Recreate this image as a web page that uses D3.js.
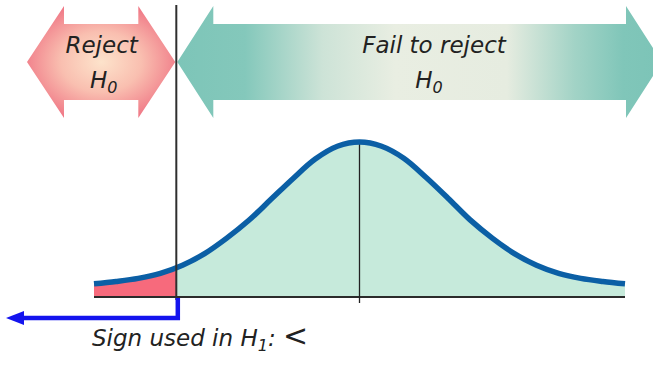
<!DOCTYPE html>
<html>
<head>
<meta charset="utf-8">
<script src="https://cdn.jsdelivr.net/npm/d3@7"></script>
<style>
  html, body { margin: 0; padding: 0; background: #fff; }
  svg { display: block; }
  .lbl { font-family: "DejaVu Sans", sans-serif; font-style: italic; fill: #222; }
</style>
</head>
<body>
<div id="chart"></div>
<script>
// curve: z position and curve height
const zValues = [-3, -2.75, -2.5, -2.25, -2, -1.75, -1.5, -1.25, -1, -0.75, -0.5, -0.25, 0,
                 0.25, 0.5, 0.75, 1, 1.25, 1.5, 1.75, 2, 2.25, 2.5, 2.75, 3];
const density = [0.034, 0.040, 0.048, 0.061, 0.082, 0.112, 0.152, 0.198, 0.252, 0.306, 0.356, 0.389, 0.400,
                 0.389, 0.358, 0.309, 0.255, 0.199, 0.152, 0.112, 0.082, 0.061, 0.048, 0.040, 0.034];
const critValue = -2.07;
const meanValue = 0;
const regionLabels = ["Reject", "Fail to reject"];
const signLabel = "Sign used in ";

const W = 653, H = 365;
const svg = d3.select("#chart").append("svg").attr("width", W).attr("height", H);

const x = d3.scaleLinear().domain([-3, 3]).range([94, 625]);
const y = d3.scaleLinear().domain([0, 0.4]).range([297, 142]);

const pts = zValues.map((z, i) => ({ z, d: density[i] }));

const defs = svg.append("defs");
const rg = defs.append("radialGradient").attr("id", "redGrad")
    .attr("cx", "50%").attr("cy", "50%").attr("r", "60%");
rg.append("stop").attr("offset", "0%").attr("stop-color", "#fde3cb");
rg.append("stop").attr("offset", "45%").attr("stop-color", "#f9bfb0");
rg.append("stop").attr("offset", "100%").attr("stop-color", "#ee6a7e");

const gg = defs.append("linearGradient").attr("id", "greenGrad")
    .attr("x1", "0%").attr("x2", "100%").attr("y1", "0%").attr("y2", "0%");
[["0%", "#7dc5b8"], ["14%", "#84c8bb"], ["30%", "#cde3d7"], ["45%", "#e9eee2"],
 ["68%", "#e6ece0"], ["82%", "#a2d3c6"], ["92%", "#80c6b9"], ["100%", "#7cc4b7"]]
    .forEach(([o, c]) => gg.append("stop").attr("offset", o).attr("stop-color", c));

// double-headed arrow outline
function arrowPath(x0, x1, cy, headLen, headHalf, shaftHalf) {
    return `M${x0},${cy} L${x0 + headLen},${cy - headHalf} L${x0 + headLen},${cy - shaftHalf}
            L${x1 - headLen},${cy - shaftHalf} L${x1 - headLen},${cy - headHalf} L${x1},${cy}
            L${x1 - headLen},${cy + headHalf} L${x1 - headLen},${cy + shaftHalf}
            L${x0 + headLen},${cy + shaftHalf} L${x0 + headLen},${cy + headHalf} Z`;
}

const xc = x(critValue);
const arrowY = 62;
svg.append("path").attr("d", arrowPath(27, xc - 1, arrowY, 37, 56, 38)).attr("fill", "url(#redGrad)");
svg.append("path").attr("d", arrowPath(xc + 1, W + 9, arrowY, 36, 56, 38)).attr("fill", "url(#greenGrad)");

// region labels
const leftCx = (27 + xc) / 2;
svg.append("text").attr("class", "lbl").attr("x", leftCx).attr("y", 53)
    .attr("text-anchor", "middle").attr("font-size", 23).text(regionLabels[0]);
const h0a = svg.append("text").attr("class", "lbl").attr("x", leftCx + 2).attr("y", 88)
    .attr("text-anchor", "middle").attr("font-size", 23);
h0a.append("tspan").text("H");
h0a.append("tspan").attr("font-size", 16).attr("dy", 5).text("0");

svg.append("text").attr("class", "lbl").attr("x", 434).attr("y", 53)
    .attr("text-anchor", "middle").attr("font-size", 23).text(regionLabels[1]);
const h0b = svg.append("text").attr("class", "lbl").attr("x", 429).attr("y", 88)
    .attr("text-anchor", "middle").attr("font-size", 23);
h0b.append("tspan").text("H");
h0b.append("tspan").attr("font-size", 16).attr("dy", 5).text("0");

// filled areas under curve
const area = d3.area().x(d => x(d.z)).y0(y(0)).y1(d => y(d.d)).curve(d3.curveCatmullRom.alpha(0.5));
const line = d3.line().x(d => x(d.z)).y(d => y(d.d)).curve(d3.curveCatmullRom.alpha(0.5));

svg.append("clipPath").attr("id", "leftClip").append("rect")
    .attr("x", 0).attr("y", 0).attr("width", xc).attr("height", H);
svg.append("clipPath").attr("id", "rightClip").append("rect")
    .attr("x", xc).attr("y", 0).attr("width", W - xc).attr("height", H);

svg.append("path").datum(pts).attr("d", area).attr("fill", "#f76a7c").attr("clip-path", "url(#leftClip)");
svg.append("path").datum(pts).attr("d", area).attr("fill", "#c6eadb").attr("clip-path", "url(#rightClip)");

// baseline
svg.append("line").attr("x1", x(-3)).attr("x2", x(3)).attr("y1", y(0)).attr("y2", y(0))
    .attr("stroke", "#2b2b2b").attr("stroke-width", 2);

// mean line
svg.append("line").attr("x1", x(meanValue)).attr("x2", x(meanValue))
    .attr("y1", y(0.4)).attr("y2", y(0) + 6)
    .attr("stroke", "#222").attr("stroke-width", 1.3);

// curve
svg.append("path").datum(pts).attr("d", line).attr("fill", "none")
    .attr("stroke", "#0b5fa5").attr("stroke-width", 5.5).attr("stroke-linecap", "butt");

// critical value line
svg.append("line").attr("x1", xc).attr("x2", xc).attr("y1", 5).attr("y2", y(0) + 3)
    .attr("stroke", "#2f2f2f").attr("stroke-width", 2);

// blue arrow pointing to the left
const blueY = 318;
svg.append("path")
    .attr("d", `M${xc + 1.5},${y(0) + 1} L${xc + 1.5},${blueY} L22,${blueY}`)
    .attr("fill", "none").attr("stroke", "#1414ee").attr("stroke-width", 4.5);
svg.append("path")
    .attr("d", `M6,${blueY} L24,${blueY - 7} L24,${blueY + 7} Z`)
    .attr("fill", "#1414ee");

// sign label
const sign = svg.append("text").attr("class", "lbl").attr("x", 92).attr("y", 346).attr("font-size", 23);
sign.append("tspan").text(signLabel);
sign.append("tspan").text("H");
sign.append("tspan").attr("font-size", 16).attr("dy", 5).text("1");
sign.append("tspan").attr("dy", -5).text(": ");
sign.append("tspan").attr("font-size", 30).attr("font-style", "normal").text("<");
</script>
</body>
</html>
